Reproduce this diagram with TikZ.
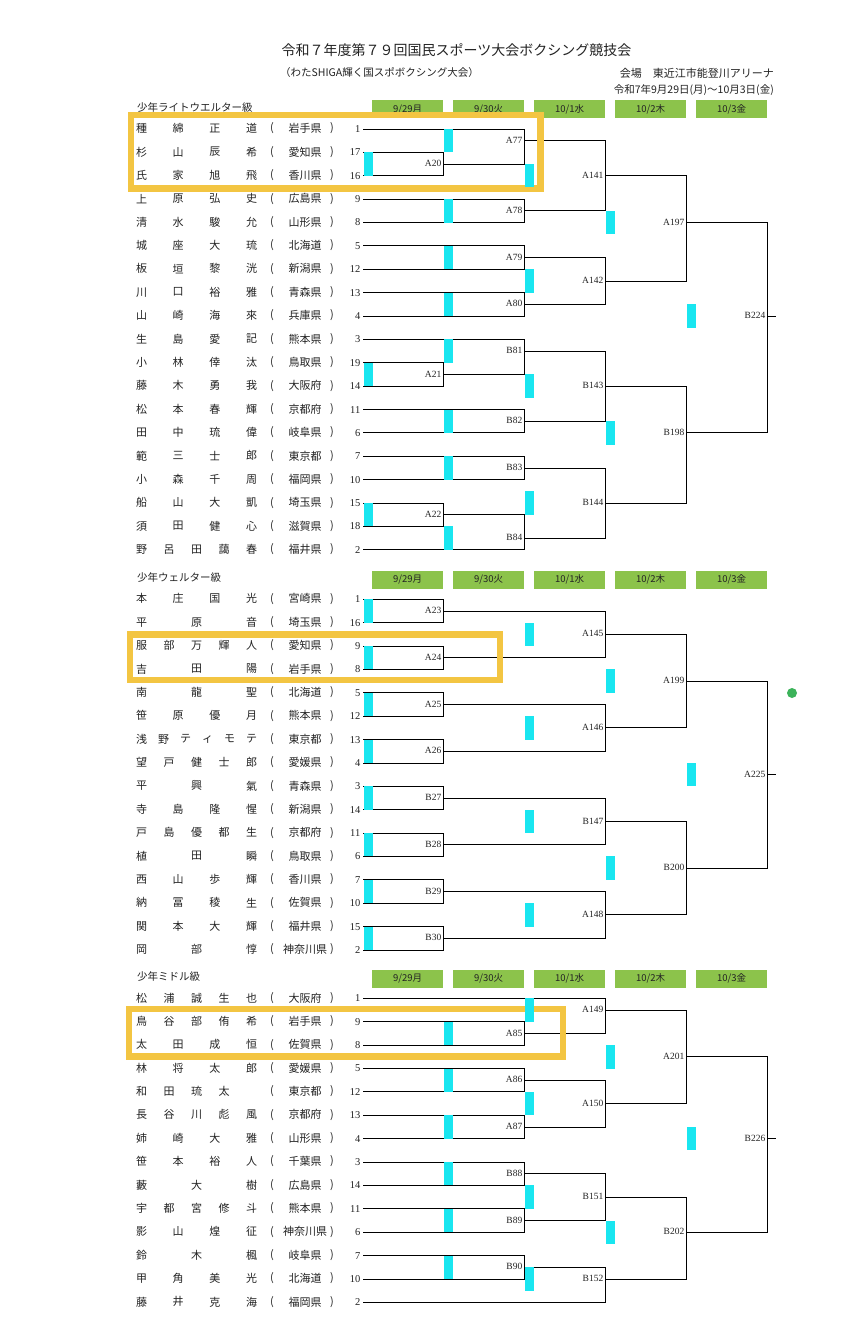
\documentclass[tikz,border=0pt]{standalone}
\usepackage{fontspec}
\setmainfont{Liberation Serif}
\newfontfamily\jp{Noto Sans CJK JP}
\definecolor{hdrgreen}{RGB}{140,195,75}
\definecolor{barcyan}{RGB}{25,230,240}
\definecolor{hiyellow}{RGB}{243,197,66}
\definecolor{dotgreen}{RGB}{60,179,90}
\definecolor{txt}{RGB}{35,35,35}
\tikzset{
  brline/.style={line width=0.9pt, black},
  mlabel/.style={anchor=east, inner sep=0pt, font=\fontsize{9.5}{10}\selectfont, text=txt},
  namech/.style={inner sep=0pt, font=\jp\fontsize{11}{12}\selectfont, text=txt},
  seedno/.style={anchor=east, inner sep=0pt, font=\fontsize{10.5}{11}\selectfont, text=txt},
  daybox/.style={fill=hdrgreen, minimum width=71pt, minimum height=18pt, inner sep=0pt, font=\jp\fontsize{9.5}{10}\selectfont, text=txt, anchor=north west},
  cbar/.style={fill=barcyan, draw=none},
  hibox/.style={draw=hiyellow, line width=6.5pt},
  sectitle/.style={anchor=west, inner sep=0pt, font=\jp\fontsize{10.5}{11}\selectfont, text=txt},
}
% player row: #1 section, #2 index, #3 number of name slots, #4 chars, #5 prefecture, #6 seed
\newcommand{\plr}[6]{%
  \pgfmathsetmacro{\yy}{\sb+2*(#2-1)*11.69}%
  \foreach \c [count=\i] in {#4} {
    \node[namech] (nm#1n#2n\i) at ({141.5+(\i-1)*110/(#3-1)},{\yy-0.5}) {\c};
  }
  \node[namech] (lp#1n#2) at (272,{\yy-0.5}) {(};
  \node[namech] (pf#1n#2) at (305,{\yy-0.5}) {#5};
  \node[namech] (rp#1n#2) at (332,{\yy-0.5}) {)};
  \node[seedno] (sd#1n#2) at (360.5,\yy) {#6};
  \coordinate (P#1n#2) at (363,\yy);
}
% match: #1 name, #2 x of vertical, #3 half-row k of output, #4 #5 inputs
\newcommand{\mt}[5]{%
  \coordinate (m#1) at (#2,{\sb+#3*11.69});
  \draw[brline] (#4) -- (#4 -| m#1) -- (#5 -| m#1) -- (#5);
  \node[mlabel] (L#1) at ([xshift=-1.5pt,yshift=0.5pt]m#1) {#1};
}
\newcommand{\cb}[2]{%
  \fill[cbar] ({#1+1},{\sb+#2*11.69-11.69}) rectangle ({#1+10},{\sb+#2*11.69+11.69});
}
\newcommand{\hdr}[2]{%
  \node[sectitle] (st#1) at (137,{\sb-21.5}) {#2};
  \node[daybox] (h#1a) at (372,{\sb-29}) {9/29月};
  \node[daybox] (h#1b) at (453,{\sb-29}) {9/30火};
  \node[daybox] (h#1c) at (534,{\sb-29}) {10/1水};
  \node[daybox] (h#1d) at (615,{\sb-29}) {10/2木};
  \node[daybox] (h#1e) at (696,{\sb-29}) {10/3金};
}
\begin{document}
\begin{tikzpicture}[x=1pt,y=-1pt]
\fill[white] (0,0) rectangle (859,1332);
\useasboundingbox (0,0) rectangle (859,1332);

\node[font=\jp\fontsize{14}{15}\selectfont, text=txt] (title) at (456.5,50) {令和７年度第７９回国民スポーツ大会ボクシング競技会};
\node[anchor=west, inner sep=0pt, font=\jp\fontsize{10.5}{11}\selectfont, text=txt] (sub) at (280,73) {（わたSHIGA輝く国スポボクシング大会）};
\node[anchor=east, inner sep=0pt, font=\jp\fontsize{11}{12}\selectfont, text=txt] (venue) at (774,73) {会場　東近江市能登川アリーナ};
\node[anchor=east, inner sep=0pt, font=\jp\fontsize{10.5}{11}\selectfont, text=txt] (dates) at (774,90) {令和7年9月29日(月)～10月3日(金)};

%% ---------------- Section 1
\def\sb{129}
\hdr{1}{少年ライトウエルター級}
\plr{1}{1}{4}{種,綿,正,道}{岩手県}{1}
\plr{1}{2}{4}{杉,山,辰,希}{愛知県}{17}
\plr{1}{3}{4}{氏,家,旭,飛}{香川県}{16}
\plr{1}{4}{4}{上,原,弘,史}{広島県}{9}
\plr{1}{5}{4}{清,水,駿,允}{山形県}{8}
\plr{1}{6}{4}{城,座,大,琉}{北海道}{5}
\plr{1}{7}{4}{板,垣,黎,洸}{新潟県}{12}
\plr{1}{8}{4}{川,口,裕,雅}{青森県}{13}
\plr{1}{9}{4}{山,崎,海,來}{兵庫県}{4}
\plr{1}{10}{4}{生,島,愛,記}{熊本県}{3}
\plr{1}{11}{4}{小,林,倖,汰}{鳥取県}{19}
\plr{1}{12}{4}{藤,木,勇,我}{大阪府}{14}
\plr{1}{13}{4}{松,本,春,輝}{京都府}{11}
\plr{1}{14}{4}{田,中,琉,偉}{岐阜県}{6}
\plr{1}{15}{4}{範,三,士,郎}{東京都}{7}
\plr{1}{16}{4}{小,森,千,周}{福岡県}{10}
\plr{1}{17}{4}{船,山,大,凱}{埼玉県}{15}
\plr{1}{18}{4}{須,田,健,心}{滋賀県}{18}
\plr{1}{19}{5}{野,呂,田,藹,春}{福井県}{2}
\mt{A20}{443}{3}{P1n2}{P1n3}
\mt{A77}{524}{1}{P1n1}{mA20}
\mt{A78}{524}{7}{P1n4}{P1n5}
\mt{A79}{524}{11}{P1n6}{P1n7}
\mt{A80}{524}{15}{P1n8}{P1n9}
\mt{A21}{443}{21}{P1n11}{P1n12}
\mt{B81}{524}{19}{P1n10}{mA21}
\mt{B82}{524}{25}{P1n13}{P1n14}
\mt{B83}{524}{29}{P1n15}{P1n16}
\mt{A22}{443}{33}{P1n17}{P1n18}
\mt{B84}{524}{35}{mA22}{P1n19}
\mt{A141}{605}{4}{mA77}{mA78}
\mt{A142}{605}{13}{mA79}{mA80}
\mt{B143}{605}{22}{mB81}{mB82}
\mt{B144}{605}{32}{mB83}{mB84}
\mt{A197}{686}{8}{mA141}{mA142}
\mt{B198}{686}{26}{mB143}{mB144}
\mt{B224}{767}{16}{mA197}{mB198}
\coordinate (e224) at ([xshift=9pt]mB224);
\draw[brline] (mB224) -- (e224);
\draw[hibox] (131,115) rectangle (540.5,188.5);
\foreach \k in {3,21,33} {\cb{363}{\k}}
\foreach \k in {1,7,11,15,19,25,29,35} {\cb{443}{\k}}
\foreach \k in {4,13,22,32} {\cb{524}{\k}}
\foreach \k in {8,26} {\cb{605}{\k}}
\cb{686}{16}

%% ---------------- Section 2
\def\sb{599.3}
\hdr{2}{少年ウェルター級}
\plr{2}{1}{4}{本,庄,国,光}{宮崎県}{1}
\plr{2}{2}{3}{平,原,音}{埼玉県}{16}
\plr{2}{3}{5}{服,部,万,輝,人}{愛知県}{9}
\plr{2}{4}{3}{吉,田,陽}{岩手県}{8}
\plr{2}{5}{3}{南,龍,聖}{北海道}{5}
\plr{2}{6}{4}{笹,原,優,月}{熊本県}{12}
\plr{2}{7}{6}{浅,野,テ,ィ,モ,テ}{東京都}{13}
\plr{2}{8}{5}{望,戸,健,士,郎}{愛媛県}{4}
\plr{2}{9}{3}{平,興,氣}{青森県}{3}
\plr{2}{10}{4}{寺,島,隆,惺}{新潟県}{14}
\plr{2}{11}{5}{戸,島,優,都,生}{京都府}{11}
\plr{2}{12}{3}{植,田,瞬}{鳥取県}{6}
\plr{2}{13}{4}{西,山,歩,輝}{香川県}{7}
\plr{2}{14}{4}{納,冨,稜,生}{佐賀県}{10}
\plr{2}{15}{4}{関,本,大,輝}{福井県}{15}
\plr{2}{16}{3}{岡,部,惇}{神奈川県}{2}
\mt{A23}{443}{1}{P2n1}{P2n2}
\mt{A24}{443}{5}{P2n3}{P2n4}
\mt{A25}{443}{9}{P2n5}{P2n6}
\mt{A26}{443}{13}{P2n7}{P2n8}
\mt{B27}{443}{17}{P2n9}{P2n10}
\mt{B28}{443}{21}{P2n11}{P2n12}
\mt{B29}{443}{25}{P2n13}{P2n14}
\mt{B30}{443}{29}{P2n15}{P2n16}
\mt{A145}{605}{3}{mA23}{mA24}
\mt{A146}{605}{11}{mA25}{mA26}
\mt{B147}{605}{19}{mB27}{mB28}
\mt{A148}{605}{27}{mB29}{mB30}
\mt{A199}{686}{7}{mA145}{mA146}
\mt{B200}{686}{23}{mB147}{mA148}
\mt{A225}{767}{15}{mA199}{mB200}
\coordinate (e225) at ([xshift=9pt]mA225);
\draw[brline] (mA225) -- (e225);
\draw[hibox] (130,634.5) rectangle (500,680);
\foreach \k in {1,5,9,13,17,21,25,29} {\cb{363}{\k}}
\foreach \k in {3,11,19,27} {\cb{524}{\k}}
\foreach \k in {7,23} {\cb{605}{\k}}
\cb{686}{15}
\fill[dotgreen] (792,693) circle (5pt);

%% ---------------- Section 3
\def\sb{998.4}
\hdr{3}{少年ミドル級}
\plr{3}{1}{5}{松,浦,誠,生,也}{大阪府}{1}
\plr{3}{2}{5}{鳥,谷,部,侑,希}{岩手県}{9}
\plr{3}{3}{4}{太,田,成,恒}{佐賀県}{8}
\plr{3}{4}{4}{林,将,太,郎}{愛媛県}{5}
\plr{3}{5}{5}{和,田,琉,太,{}}{東京都}{12}
\plr{3}{6}{5}{長,谷,川,彪,風}{京都府}{13}
\plr{3}{7}{4}{姉,崎,大,雅}{山形県}{4}
\plr{3}{8}{4}{笹,本,裕,人}{千葉県}{3}
\plr{3}{9}{3}{藪,大,樹}{広島県}{14}
\plr{3}{10}{5}{宇,都,宮,修,斗}{熊本県}{11}
\plr{3}{11}{4}{影,山,煌,征}{神奈川県}{6}
\plr{3}{12}{3}{鈴,木,楓}{岐阜県}{7}
\plr{3}{13}{4}{甲,角,美,光}{北海道}{10}
\plr{3}{14}{4}{藤,井,克,海}{福岡県}{2}
\mt{A85}{524}{3}{P3n2}{P3n3}
\mt{A86}{524}{7}{P3n4}{P3n5}
\mt{A87}{524}{11}{P3n6}{P3n7}
\mt{B88}{524}{15}{P3n8}{P3n9}
\mt{B89}{524}{19}{P3n10}{P3n11}
\mt{B90}{524}{23}{P3n12}{P3n13}
\mt{A149}{605}{1}{P3n1}{mA85}
\mt{A150}{605}{9}{mA86}{mA87}
\mt{B151}{605}{17}{mB88}{mB89}
\mt{B152}{605}{24}{mB90}{P3n14}
\mt{A201}{686}{5}{mA149}{mA150}
\mt{B202}{686}{20}{mB151}{mB152}
\mt{B226}{767}{12}{mA201}{mB202}
\coordinate (e226) at ([xshift=9pt]mB226);
\draw[brline] (mB226) -- (e226);
\draw[hibox] (129,1009) rectangle (563,1056.5);
\foreach \k in {3,7,11,15,19,23} {\cb{443}{\k}}
\foreach \k in {1,9,17,24} {\cb{524}{\k}}
\foreach \k in {5,20} {\cb{605}{\k}}
\cb{686}{12}
\end{tikzpicture}
\end{document}
